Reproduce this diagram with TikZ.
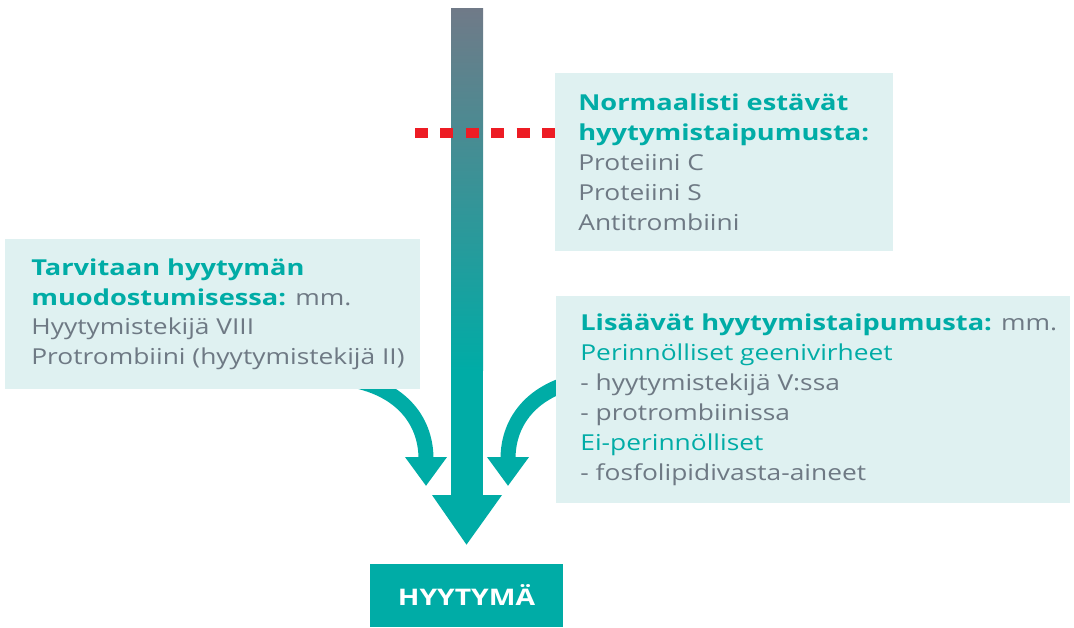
\documentclass[tikz,border=0pt]{standalone}
\usepackage{fontspec}
\setmainfont{Open Sans}[FakeStretch=1.2, BoldFeatures={FakeStretch=1.24}]
\usetikzlibrary{arrows.meta}
\definecolor{hteal}{RGB}{0,172,166}
\definecolor{hgray}{RGB}{110,121,132}
\definecolor{hbox}{RGB}{223,241,241}
\definecolor{hred}{RGB}{237,28,36}
\definecolor{hshaft}{RGB}{112,122,136}
\newcommand{\hd}[1]{\textbf{\color{hteal}#1}}

\begin{document}
\begin{tikzpicture}[x=0.02cm,y=-0.02cm,
  infobox/.style={fill=hbox, anchor=north west, inner sep=0pt},
  boxtext/.style={anchor=west, align=left, inner sep=0pt, text=hgray,
    font=\fontsize{12.5}{17}\selectfont},
  bendarrow/.style={hteal, line width=0.3cm, -{Triangle[width=0.8cm,length=0.58cm]}}]
\useasboundingbox (0,0) rectangle (1074,627);
% side arrows, under the boxes
\coordinate (leftsrc) at (340,378);
\coordinate (lefttip) at (426,486);
\coordinate (rightsrc) at (594,378);
\coordinate (righttip) at (508,486);
\draw[bendarrow] (leftsrc) .. controls (400,385) and (426,420) .. (lefttip);
\draw[bendarrow] (rightsrc) .. controls (534,385) and (508,420) .. (righttip);
% boxes
\node[infobox, minimum width=6.76cm, minimum height=3.56cm] (inhib) at (555,73) {};
\node[boxtext] (inhibtext) at ([xshift=0.46cm]inhib.west)
  {\hd{Normaalisti estävät}\\\hd{hyytymistaipumusta:}\\Proteiini C\\Proteiini S\\Antitrombiini};
\node[infobox, minimum width=8.3cm, minimum height=3cm] (need) at (5,239) {};
\node[boxtext] (needtext) at ([xshift=0.52cm]need.west)
  {\hd{Tarvitaan hyytymän}\\\hd{muodostumisessa:} mm.\\Hyytymistekijä VIII\\Protrombiini (hyytymistekijä II)};
\node[infobox, minimum width=10.28cm, minimum height=4.14cm] (risk) at (556,296) {};
\node[boxtext] (risktext) at ([xshift=0.48cm]risk.west)
  {\hd{Lisäävät hyytymistaipumusta:} mm.\\{\color{hteal}Perinnölliset geenivirheet}\\- hyytymistekijä V:ssa\\- protrombiinissa\\{\color{hteal}Ei-perinnölliset}\\- fosfolipidivasta-aineet};
\node[fill=hteal, text=white, minimum width=3.86cm, minimum height=1.26cm,
  font=\fontsize{13}{15}\selectfont\bfseries] (clot) at (466.5,595.5) {HYYTYMÄ};
% main arrow
\coordinate (src) at (467,8);
\coordinate (tip) at ([yshift=0.38cm]clot.north);
\shade[top color=hshaft, bottom color=hteal] (451,8) rectangle (483,370);
\fill[hteal] (451,369) rectangle (483,495);
\fill[hteal] (432,495) -- (502,495) -- (tip) -- cycle;
% red inhibition line
\coordinate (redstart) at (415,132.5);
\draw[hred, line width=0.2cm, dash pattern=on 7.37pt off 7.09pt] (redstart) -- (inhib.west |- redstart);
\end{tikzpicture}
\end{document}
